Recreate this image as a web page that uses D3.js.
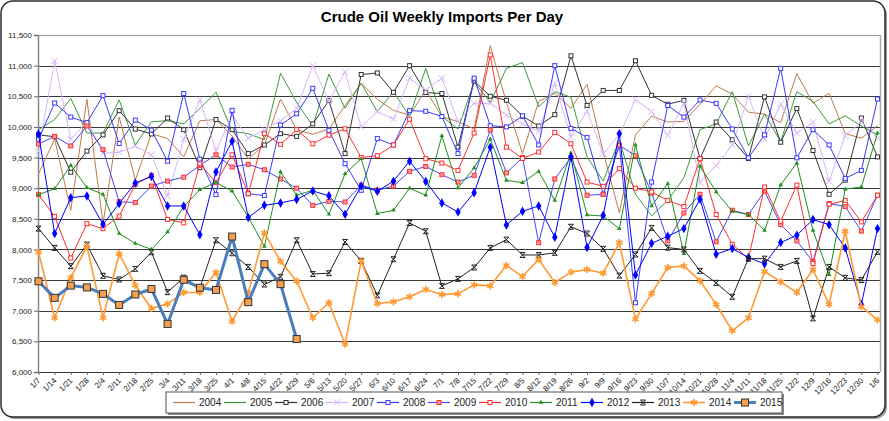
<!DOCTYPE html>
<html>
<head>
<meta charset="utf-8">
<script src="https://cdn.jsdelivr.net/npm/d3@7"></script>
<style>
  body { margin: 0; background: #fff; font-family: "Liberation Sans", Arial, sans-serif; }
</style>
</head>
<body>
<div id="chart"></div>
<script>
// Crude oil weekly imports per day, one line per year (thousand barrels/day)

const weeks = ["1/7","1/14","1/21","1/28","2/4","2/11","2/18","2/25","3/4","3/11","3/18","3/25",
    "4/1","4/8","4/15","4/22","4/29","5/6","5/13","5/20","5/27","6/3","6/10","6/17","6/24",
    "7/1","7/8","7/15","7/22","7/29","8/5","8/12","8/19","8/26","9/2","9/9","9/16","9/23","9/30",
    "10/7","10/14","10/21","10/28","11/4","11/11","11/18","11/25","12/2","12/9","12/16","12/23","12/30","1/6"];

const yTicks = [6000, 6500, 7000, 7500, 8000, 8500, 9000, 9500, 10000, 10500, 11000, 11500];

const y2004 = [9235,9800,8640,10450,8420,10160,9130,9890,9810,9510,10100,10120,9850,9480,9700,10455,9955,9880,9965,10350,10710,10450,10270,10190,10600,10170,10085,9965,11325,10400,9565,10415,10550,10305,10695,9590,8600,9870,10175,10080,10090,10370,10670,10535,10240,10210,10070,10870,10385,10550,9890,9815,10020];
const y2005 = [9955,10120,10465,9900,9900,10440,9705,10085,10100,10050,10300,10565,9925,9890,9790,10875,10400,10015,10860,10305,10713,10250,10575,10170,10955,10170,9965,10735,10400,10955,11050,10330,10575,10485,9510,9115,9790,8900,8550,8800,9170,9955,10050,10575,9690,10210,9760,10575,10415,10050,10180,10015,9870];
const y2006 = [9870,9840,9260,9605,9870,10265,9965,9885,10145,9955,9335,10120,9955,9565,9705,9890,9845,10050,10430,9565,10855,10880,10565,11000,10560,10545,9670,10750,10500,10435,10175,10015,10200,11160,10350,10595,10595,11080,10515,10370,10435,9480,10080,9790,9485,10490,9750,10300,9615,8900,9130,10145,9510];
const y2007 = [9600,11080,9800,10085,9570,9585,9690,9545,8870,9800,10440,9610,10190,9815,9955,10100,10300,11000,10415,10900,10000,10250,10125,10795,10600,10795,10085,10385,10385,10190,10050,9930,10710,9840,10260,9565,9870,10445,10250,9860,10385,9095,9370,9705,10500,9800,10370,9900,10075,9115,9855,10085,9815];
const y2008 = [9800,10390,10160,10070,10510,9730,10110,9950,9440,10545,9475,8895,10270,8910,8880,10030,10215,10630,9945,9400,8965,9810,9705,10265,10255,10170,9565,10795,10020,10000,10180,9705,11000,9975,9830,8900,9700,7130,9100,10350,10160,10440,10385,9965,9495,9870,10955,9495,9955,9705,9160,9290,10455];
const y2009 = [9720,9845,9690,10015,9630,8780,8765,9035,9115,9180,9372,9545,9345,9390,9300,9150,9000,8720,8785,8775,9050,8965,9035,9275,9355,9220,9100,9210,9950,9250,9500,8110,9150,9500,8885,8900,9700,9530,8920,8140,8595,8900,8125,8640,8570,8950,8405,8140,7800,8750,8700,8300,8885];
const y2010 = [8895,8540,7860,8420,8340,8545,9060,9210,8490,8435,9400,9090,9545,8910,9890,9715,9955,9725,9865,9970,9500,9530,9705,10125,9480,9410,9290,9900,11175,9670,9485,9590,9910,9725,9100,9030,9320,9000,8940,8800,8700,9480,8570,8085,7850,9020,8460,9050,7770,8736,8800,8450,8885];
const y2011 = [8895,8992,9372,9008,8900,8260,8100,8000,8285,8700,8975,9095,8950,8530,8050,9265,8885,8965,8574,9235,9480,8585,8640,9000,8885,9855,9005,9330,9800,9128,9090,9275,8800,9575,8563,8545,8340,9705,8710,9075,7933,9360,8940,8623,8569,8310,9053,9410,8310,7590,8985,9020,9900];
const y2012 = [9885,8260,8845,8873,8410,8750,9085,9190,8710,8710,8240,9265,9765,8520,8720,8760,8815,8955,8875,8574,9035,8950,9115,9440,9110,8760,8610,8925,9670,8400,8623,8710,8200,9510,8030,8557,9890,7585,8100,8215,8340,8820,7922,8015,7868,7765,8112,8232,8487,8405,8025,7103,8340];
const y2013 = [8340,8025,7727,8080,7570,7510,7683,7955,7303,7540,7375,8150,7938,7715,7428,7553,8150,7600,7612,8122,7813,7250,7840,8432,8297,7405,7520,7705,8025,8160,7910,7910,7945,8370,8260,8010,7573,7917,8352,8030,8000,7650,7455,7227,7850,7850,7715,7813,6875,7715,7537,7500,7960];
const y2014 = [7955,6885,7540,8050,6885,7930,7417,7037,7112,7298,7298,7624,6826,7292,8270,7808,7482,6885,7130,6456,7813,7118,7145,7227,7347,7265,7275,7422,7405,7738,7558,7840,7460,7630,7673,7612,8112,6863,7282,7705,7732,7488,7103,6673,6885,7640,7470,7298,7673,7103,8297,7065,6852];
const y2015 = [7480,7210,7410,7380,7275,7095,7265,7355,6785,7505,7375,7340,8210,7140,7760,7434,6538];

const series = [
    {name: "2004", values: y2004, color: "#bf7a4c", marker: null},
    {name: "2005", values: y2005, color: "#3c9a3c", marker: null},
    {name: "2006", values: y2006, color: "#333333", marker: "hsquare"},
    {name: "2007", values: y2007, color: "#d7b4fa", marker: "x"},
    {name: "2008", values: y2008, color: "#3a3aff", marker: "hsquare"},
    {name: "2009", values: y2009, color: "#4646ff", marker: "rsquare"},
    {name: "2010", values: y2010, color: "#ff3030", marker: "hsquare"},
    {name: "2011", values: y2011, color: "#1f8f1f", marker: "triangle"},
    {name: "2012", values: y2012, color: "#0000ff", marker: "diamond"},
    {name: "2013", values: y2013, color: "#222222", marker: "bowtie"},
    {name: "2014", values: y2014, color: "#ff9933", marker: "star"},
    {name: "2015", values: y2015, color: "#4a7ebb", marker: "big"}
];

const W = 889, H = 421;
const plot = {left: 38, right: 880, top: 35, bottom: 372};

const svg = d3.select("#chart").append("svg")
    .attr("width", W)
    .attr("height", H);

// Outer frame with a little shadow.
svg.append("rect")
    .attr("x", 3).attr("y", 3).attr("width", W - 5).attr("height", H - 5)
    .attr("rx", 12).attr("fill", "#9a9a9a");
svg.append("rect")
    .attr("x", 1).attr("y", 1).attr("width", W - 5).attr("height", H - 5)
    .attr("rx", 12).attr("fill", "#fff").attr("stroke", "#2b2b2b").attr("stroke-width", 1.5);

// Title.
svg.append("text")
    .attr("x", 442).attr("y", 22)
    .attr("text-anchor", "middle")
    .style("font-size", "15px")
    .style("font-weight", "bold")
    .text("Crude Oil Weekly Imports Per Day");

const x = d3.scalePoint()
    .domain(weeks)
    .range([plot.left + 0.5, plot.right - 2.5]);

const y = d3.scaleLinear()
    .domain([6000, 11500])
    .range([plot.bottom, plot.top]);

// Gridlines.
svg.append("g")
    .selectAll("line")
    .data(yTicks)
    .join("line")
    .attr("x1", plot.left).attr("x2", plot.right)
    .attr("y1", d => Math.round(y(d)) + 0.5).attr("y2", d => Math.round(y(d)) + 0.5)
    .attr("stroke", d => (d === 11500 ? "#9a9a9a" : "#3a3a3a"))
    .attr("stroke-width", 1.1);

// Right border of the plot.
svg.append("line")
    .attr("x1", plot.right + 0.5).attr("x2", plot.right + 0.5)
    .attr("y1", plot.top).attr("y2", plot.bottom)
    .attr("stroke", "#aaa").attr("stroke-width", 1.5);

// Y axis.
const yAxis = svg.append("g")
    .attr("transform", `translate(${plot.left},0)`)
    .call(d3.axisLeft(y).tickValues(yTicks).tickFormat(d3.format(",")).tickSize(4).tickPadding(2));
yAxis.select(".domain").attr("stroke", "#888").attr("stroke-width", 1.5);
yAxis.selectAll(".tick line").attr("stroke", "#666");
yAxis.selectAll("text").style("font-size", "8px").style("font-family", "Liberation Sans, Arial").attr("fill", "#222");

// X axis with slanted week labels.
const xAxis = svg.append("g")
    .attr("transform", `translate(0,${plot.bottom})`)
    .call(d3.axisBottom(x).tickSize(3).tickSizeOuter(0));
xAxis.select(".domain").attr("stroke", "#3a3a3a");
xAxis.selectAll(".tick line").attr("stroke", "#666");
xAxis.selectAll("text")
    .style("font-size", "8px")
    .style("font-family", "Liberation Sans, Arial")
    .attr("fill", "#222")
    .attr("text-anchor", "end")
    .attr("dy", 0)
    .attr("y", 0)
    .attr("transform", "translate(2,9) rotate(-45)");

// Marker drawing helper.
function drawMarker(g, type, color, size) {
    if (type === "hsquare") {
        g.append("rect").attr("x", -2).attr("y", -2).attr("width", 4).attr("height", 4)
            .attr("fill", "#fff").attr("stroke", color).attr("stroke-width", 1);
    } else if (type === "rsquare") {
        g.append("rect").attr("x", -2).attr("y", -2).attr("width", 4).attr("height", 4)
            .attr("fill", "#ff9a9a").attr("stroke", "#ff3030").attr("stroke-width", 1);
    } else if (type === "x") {
        g.append("path").attr("d", d3.symbol(d3.symbolTimes, 28)())
            .attr("fill", "none").attr("stroke", color).attr("stroke-width", 1);
    } else if (type === "triangle") {
        g.append("path").attr("d", d3.symbol(d3.symbolTriangle, 9)()).attr("fill", color);
    } else if (type === "diamond") {
        g.append("path").attr("d", d3.symbol(d3.symbolDiamond, 26)()).attr("fill", color);
    } else if (type === "bowtie") {
        g.append("path").attr("d", "M-2.5,-2.5L2.5,2.5M2.5,-2.5L-2.5,2.5M-2.5,-2.5H2.5M-2.5,2.5H2.5")
            .attr("fill", "none").attr("stroke", color).attr("stroke-width", 1);
    } else if (type === "star") {
        g.append("path").attr("d", d3.symbol(d3.symbolAsterisk, 36)())
            .attr("fill", "none").attr("stroke", color).attr("stroke-width", 1.6);
    } else if (type === "big") {
        g.append("rect").attr("x", -3.5).attr("y", -3.5).attr("width", 7).attr("height", 7)
            .attr("fill", "#f4a04e").attr("stroke", "#333").attr("stroke-width", 1);
    }
}

const line = d3.line()
    .x((d, i) => x(weeks[i]))
    .y(d => y(d));

const lines = svg.append("g");
series.forEach(s => {
    const g = lines.append("g");
    g.append("path")
        .datum(s.values)
        .attr("fill", "none")
        .attr("stroke", s.color)
        .attr("stroke-width", s.marker === "big" ? 3 : (s.marker === "star" ? 1.6 : 1))
        .attr("stroke-linejoin", "round")
        .attr("d", line);
    if (s.marker) {
        g.selectAll("g.m")
            .data(s.values)
            .join("g")
            .attr("class", "m")
            .attr("transform", (d, i) => `translate(${x(weeks[i])},${y(d)})`)
            .each(function () { drawMarker(d3.select(this), s.marker, s.color); });
    }
});

// Legend.
const legend = svg.append("g");
legend.append("rect")
    .attr("x", 168).attr("y", 394).attr("width", 616).attr("height", 21)
    .attr("fill", "#888");
legend.append("rect")
    .attr("x", 166).attr("y", 392).attr("width", 616).attr("height", 21)
    .attr("fill", "#fff").attr("stroke", "#555").attr("stroke-width", 1);

series.forEach((s, i) => {
    const lx = 173 + i * 51;
    const item = legend.append("g").attr("transform", `translate(${lx},402.5)`);
    item.append("line")
        .attr("x1", 0).attr("x2", 22)
        .attr("stroke", s.color)
        .attr("stroke-width", s.marker === "big" ? 3 : (s.marker === "star" ? 1.6 : 1.2));
    if (s.marker) {
        drawMarker(item.append("g").attr("transform", "translate(11,0)"), s.marker, s.color);
    }
    item.append("text")
        .attr("x", 26).attr("y", 3.5)
        .style("font-size", "10px")
        .attr("fill", "#222")
        .text(s.name);
});
</script>
</body>
</html>
